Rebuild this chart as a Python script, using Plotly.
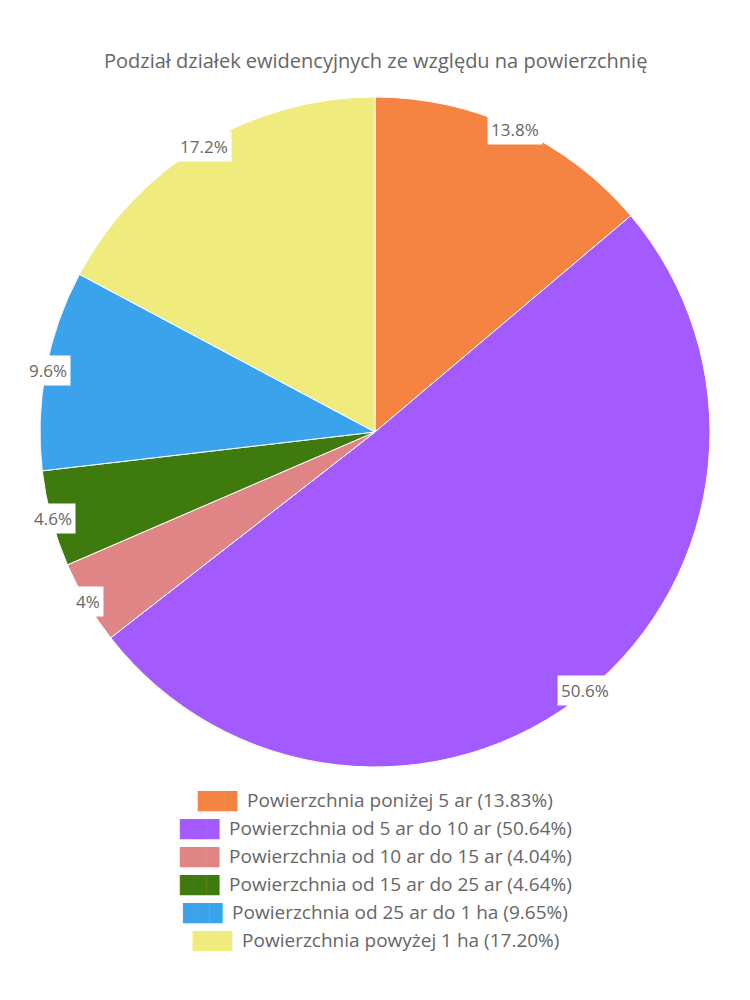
import math
import plotly.graph_objects as go

title = "Podział działek ewidencyjnych ze względu na powierzchnię"
labels = [
    "Powierzchnia poniżej 5 ar",
    "Powierzchnia od 5 ar do 10 ar",
    "Powierzchnia od 10 ar do 15 ar",
    "Powierzchnia od 15 ar do 25 ar",
    "Powierzchnia od 25 ar do 1 ha",
    "Powierzchnia powyżej 1 ha",
]
values = [13.83, 50.64, 4.04, 4.64, 9.65, 17.20]
slice_labels = ["13.8%", "50.6%", "4%", "4.6%", "9.6%", "17.2%"]
colors = ["#F58442", "#A35BFF", "#E08585", "#3F7A0E", "#3BA3EB", "#F0EB7D"]

W, H = 750, 1000
FONT = "Open Sans"
GRAY = "#666666"

# pie geometry (pixels)
cx, cy, R = 375, 432, 335
dom_y = [1 - (cy + R) / H, 1 - (cy - R) / H]

fig = go.Figure(go.Pie(
    labels=labels, values=values, sort=False, direction="clockwise", rotation=0,
    marker=dict(colors=colors, line=dict(color="white", width=1)),
    textinfo="none", hoverinfo="label+percent", showlegend=False,
    domain=dict(x=[0, 1], y=dom_y),
))

annotations = []
total = sum(values)
cum = 0
r_lab = 333
for v, txt in zip(values, slice_labels):
    mid = (cum + v / 2) / total * 2 * math.pi
    cum += v
    px = cx + r_lab * math.sin(mid)
    py = cy - r_lab * math.cos(mid)
    annotations.append(dict(
        x=px / W, y=1 - py / H, xref="paper", yref="paper",
        text=txt, showarrow=False,
        font=dict(family=FONT, size=17, color=GRAY),
        bgcolor="white", borderpad=3, xanchor="center", yanchor="middle",
    ))

# legend rows
for i, (lab, v, c) in enumerate(zip(labels, values, colors)):
    y = 800 + i * 28
    annotations.append(dict(
        x=0.5, y=1 - y / H, xref="paper", yref="paper", showarrow=False,
        xanchor="center", yanchor="middle",
        text=(f"<span style='color:{c};font-family:DejaVu Sans;font-size:17px'>███</span>"
              f"  {lab} ({v:.2f}%)"),
        font=dict(family=FONT, size=19, color=GRAY),
    ))

annotations.append(dict(
    x=0.5, y=1 - 60 / H, xref="paper", yref="paper", showarrow=False,
    xanchor="center", yanchor="middle", text=title,
    font=dict(family=FONT, size=20, color=GRAY),
))

fig.update_layout(
    width=W, height=H, margin=dict(l=0, r=0, t=0, b=0),
    paper_bgcolor="white", plot_bgcolor="white",
    annotations=annotations, showlegend=False,
)
fig.write_html("out.html")
